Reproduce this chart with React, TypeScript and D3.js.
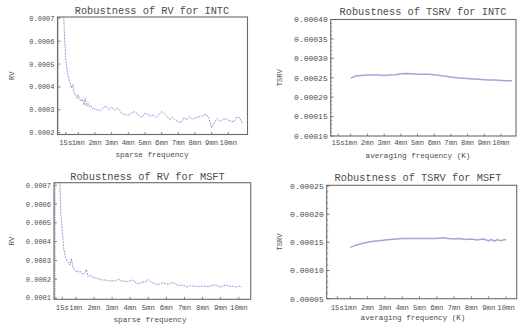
import React from 'react';
import * as d3 from 'd3';

// ---------- data ----------
const xTickSec = [15, 60, 120, 180, 240, 300, 360, 420, 480, 540, 600];
const xTickLabels = ['15s', '1mn', '2mn', '3mn', '4mn', '5mn', '6mn', '7mn', '8mn', '9mn', '10mn'];

const rvSec = [
  5, 10, 15, 20, 25, 30, 35, 40, 45, 50, 55, 60, 65, 70, 75, 80, 85, 90, 95, 100, 105, 110, 115,
  120, 130, 140, 150, 160, 170, 180, 190, 200, 210, 220, 230, 240, 250, 260, 270, 280, 290, 300,
  310, 320, 330, 340, 350, 360, 370, 380, 390, 400, 410, 420, 430, 440, 450, 460, 470, 480, 490,
  500, 510, 520, 530, 540, 550, 560, 570, 580, 590, 600, 610, 620, 630, 640, 650,
];

const rvIntc = [
  0.00080, 0.00063, 0.00052, 0.00047, 0.00044, 0.00042, 0.000395, 0.00041, 0.000372, 0.000368,
  0.00035, 0.000365, 0.000345, 0.000338, 0.000348, 0.00032, 0.000352, 0.000316, 0.000328, 0.000312,
  0.000318, 0.000304, 0.000308,
  0.000302, 0.0003, 0.000296, 0.00031, 0.000316, 0.0003, 0.000313, 0.000298, 0.000308, 0.000292,
  0.000282, 0.000278, 0.000276, 0.000284, 0.000292, 0.000286, 0.000272, 0.000268, 0.000285, 0.00028,
  0.000272, 0.000278, 0.000266, 0.000278, 0.000293, 0.000282, 0.00027, 0.000258, 0.000266, 0.000254,
  0.000248, 0.000244, 0.000266, 0.000256, 0.000272, 0.000258, 0.000265, 0.000268, 0.00027, 0.000276,
  0.00028, 0.000262, 0.000222, 0.000245, 0.000262, 0.000248, 0.000258, 0.000262, 0.000254, 0.00025,
  0.000248, 0.000268, 0.000266, 0.000242,
];

const rvMsft = [
  0.00080, 0.00055, 0.00046, 0.00036, 0.00032, 0.0003, 0.00029, 0.000275, 0.00031, 0.000262,
  0.00025, 0.00024, 0.000246, 0.000236, 0.000242, 0.000232, 0.000226, 0.000235, 0.000252, 0.000214,
  0.000222, 0.000216, 0.000212,
  0.00021, 0.000204, 0.0002, 0.000195, 0.000196, 0.00019, 0.000192, 0.00019, 0.0002, 0.000192,
  0.000189, 0.000188, 0.000192, 0.000196, 0.000178, 0.000176, 0.000184, 0.000186, 0.000198, 0.000184,
  0.000178, 0.000172, 0.000176, 0.000182, 0.000175, 0.000174, 0.000182, 0.000176, 0.000166, 0.000168,
  0.000165, 0.000158, 0.000166, 0.000164, 0.000162, 0.00016, 0.000164, 0.000162, 0.00016, 0.000166,
  0.00017, 0.000164, 0.000157, 0.000166, 0.000168, 0.000162, 0.000164, 0.000158, 0.000163, 0.00016,
];

const tsrvIntcSec = [
  60, 80, 100, 120, 140, 160, 180, 200, 220, 240, 260, 280, 300, 320, 340, 360, 380, 400, 420, 440,
  460, 480, 500, 520, 540, 560, 580, 600, 620, 640,
];
const tsrvIntc = [
  0.000249, 0.000255, 0.000256, 0.000257, 0.000257, 0.000257, 0.000256, 0.000257, 0.000258, 0.00026,
  0.000261, 0.00026, 0.000259, 0.000259, 0.000259, 0.000258, 0.000256, 0.000254, 0.000252, 0.00025,
  0.000249, 0.000248, 0.000247, 0.000246, 0.000245, 0.000244, 0.000244, 0.000243, 0.000242, 0.000242,
];

const tsrvMsftSec = [
  60, 80, 100, 120, 140, 160, 180, 200, 220, 240, 260, 280, 300, 320, 340, 360, 380, 400, 420, 440,
  460, 480, 500, 520, 540, 550, 560, 570, 580, 590, 600,
];
const tsrvMsft = [
  0.000141, 0.000145, 0.000148, 0.00015, 0.000152, 0.000153, 0.000154, 0.000155, 0.000156, 0.000157,
  0.000157, 0.000157, 0.000157, 0.000157, 0.000157, 0.000157, 0.000158, 0.000157, 0.000156, 0.000157,
  0.000155, 0.000156, 0.000154, 0.000156, 0.000153, 0.000155, 0.000152, 0.000155, 0.000153, 0.000154,
  0.000155,
];

const rvYTicks = [0.0002, 0.0003, 0.0004, 0.0005, 0.0006, 0.0007];
const rvMsftYTicks = [0.0001, 0.0002, 0.0003, 0.0004, 0.0005, 0.0006, 0.0007];
const tsrvIntcYTicks = [0.0001, 0.00015, 0.0002, 0.00025, 0.0003, 0.00035, 0.0004];
const tsrvMsftYTicks = [0.00005, 0.0001, 0.00015, 0.0002, 0.00025];

// ---------- layout ----------
const FONT = '"Liberation Mono", "DejaVu Sans Mono", monospace';
const TXT = '#4c4c4c';
const FRAME = '#6a6a6a';

type PanelCfg = {
  id: string;
  left: number; top: number; right: number; bottom: number;
  xDomain: [number, number];
  yDomain: [number, number];
  yTicks: number[];
  yFmt: (v: number) => string;
  tickFont: number;
  title: string; titleX: number; titleY: number;
  xLabel: string; xLabelX: number; xLabelY: number;
  tickLabelY: number;
  yLabel: string; yLabelX: number;
  xs: number[]; ys: number[];
  dashed: boolean;
};

const panels: PanelCfg[] = [
  {
    id: 'p1', left: 57.5, top: 17, right: 247.5, bottom: 134.5,
    xDomain: [-14.9, 669], yDomain: [0.000192, 0.0007057],
    yTicks: rvYTicks, yFmt: d3.format('.4f'), tickFont: 7,
    title: 'Robustness of RV for INTC', titleX: 152, titleY: 13.5,
    xLabel: 'sparse frequency', xLabelX: 152, xLabelY: 157,
    tickLabelY: 145, yLabel: 'RV', yLabelX: 14,
    xs: rvSec, ys: rvIntc, dashed: true,
  },
  {
    id: 'p2', left: 330.7, top: 19.5, right: 516, bottom: 136,
    xDomain: [-11.9, 653.9], yDomain: [0.0001, 0.0004],
    yTicks: tsrvIntcYTicks, yFmt: d3.format('.5f'), tickFont: 8,
    title: 'Robustness of TSRV for INTC', titleX: 423, titleY: 14.5,
    xLabel: 'averaging frequency (K)', xLabelX: 418, xLabelY: 157.5,
    tickLabelY: 145, yLabel: 'TSRV', yLabelX: 282,
    xs: tsrvIntcSec, ys: tsrvIntc, dashed: false,
  },
  {
    id: 'p3', left: 54, top: 182.7, right: 250.7, bottom: 299.3,
    xDomain: [-12.6, 639.5], yDomain: [0.0000931, 0.0007138],
    yTicks: rvMsftYTicks, yFmt: d3.format('.4f'), tickFont: 7,
    title: 'Robustness of RV for MSFT', titleX: 147.5, titleY: 180,
    xLabel: 'sparse frequency', xLabelX: 150, xLabelY: 322,
    tickLabelY: 310, yLabel: 'RV', yLabelX: 14,
    xs: rvSec.slice(0, rvMsft.length), ys: rvMsft, dashed: true,
  },
  {
    id: 'p4', left: 326.7, top: 185.3, right: 516.7, bottom: 298.7,
    xDomain: [-21.8, 637], yDomain: [0.00005, 0.0002512],
    yTicks: tsrvMsftYTicks, yFmt: d3.format('.5f'), tickFont: 8,
    title: 'Robustness of TSRV for MSFT', titleX: 418, titleY: 180.5,
    xLabel: 'averaging frequency (K)', xLabelX: 413, xLabelY: 320,
    tickLabelY: 309.7, yLabel: 'TSRV', yLabelX: 282,
    xs: tsrvMsftSec, ys: tsrvMsft, dashed: false,
  },
];

function Panel({ c }: { c: PanelCfg }) {
  const x = d3.scaleLinear().domain(c.xDomain).range([c.left, c.right]);
  const y = d3.scaleLinear().domain(c.yDomain).range([c.bottom, c.top]);
  const pts = c.xs.map((s, i) => [s, c.ys[i]] as [number, number]);
  const line = d3.line<[number, number]>().x((d) => x(d[0])).y((d) => y(d[1]));
  const minor = d3.range(Math.ceil(c.yDomain[0] / 0.00001), Math.floor(c.yDomain[1] / 0.00001) + 1)
    .map((k) => k * 0.00001);
  const midY = (c.top + c.bottom) / 2;
  return (
    <g>
      <defs>
        <clipPath id={`clip-${c.id}`}>
          <rect x={c.left} y={c.top} width={c.right - c.left} height={c.bottom - c.top} />
        </clipPath>
      </defs>
      <text x={c.titleX} y={c.titleY} textAnchor="middle" fontFamily={FONT} fontSize={10.3} fill={TXT}>
        {c.title}
      </text>
      <path
        d={line(pts) || ''}
        fill="none"
        stroke={c.dashed ? '#7d7dcc' : '#a4a4dc'}
        strokeWidth={c.dashed ? 0.8 : 1.5}
        strokeDasharray={c.dashed ? '2 1' : undefined}
        clipPath={`url(#clip-${c.id})`}
      />
      <rect x={c.left} y={c.top} width={c.right - c.left} height={c.bottom - c.top}
        fill="none" stroke={FRAME} strokeWidth={1.1} />
      {minor.map((v, i) => (
        <line key={'m' + i} x1={c.left} x2={c.left + 1.6} y1={y(v)} y2={y(v)} stroke={FRAME} strokeWidth={0.6} />
      ))}
      {c.yTicks.map((v, i) => (
        <g key={'y' + i}>
          <line x1={c.left} x2={c.left + 3} y1={y(v)} y2={y(v)} stroke={FRAME} strokeWidth={0.8} />
          <text x={c.left - 3} y={y(v)} dy="0.35em" textAnchor="end" fontFamily={FONT}
            fontSize={c.tickFont} fill={TXT}>
            {c.yFmt(v)}
          </text>
        </g>
      ))}
      {xTickSec.map((s, i) => (
        <g key={'x' + i}>
          <line x1={x(s)} x2={x(s)} y1={c.bottom} y2={c.bottom - 2.5} stroke={FRAME} strokeWidth={0.8} />
          <text x={x(s)} y={c.tickLabelY} textAnchor="middle" fontFamily={FONT} fontSize={7.3} fill={TXT}>
            {xTickLabels[i]}
          </text>
        </g>
      ))}
      <text x={c.xLabelX} y={c.xLabelY} textAnchor="middle" fontFamily={FONT} fontSize={7.6} fill={TXT}>
        {c.xLabel}
      </text>
      <text transform={`translate(${c.yLabelX},${midY}) rotate(-90)`} textAnchor="middle"
        fontFamily={FONT} fontSize={7} fill={TXT}>
        {c.yLabel}
      </text>
    </g>
  );
}

export default function App() {
  return (
    <svg width={520} height={324} viewBox="0 0 520 324"
      style={{ position: 'absolute', left: 0, top: 0, background: '#fff' }}>
      <rect x={0} y={0} width={520} height={324} fill="#fff" />
      {panels.map((c) => <Panel key={c.id} c={c} />)}
    </svg>
  );
}
